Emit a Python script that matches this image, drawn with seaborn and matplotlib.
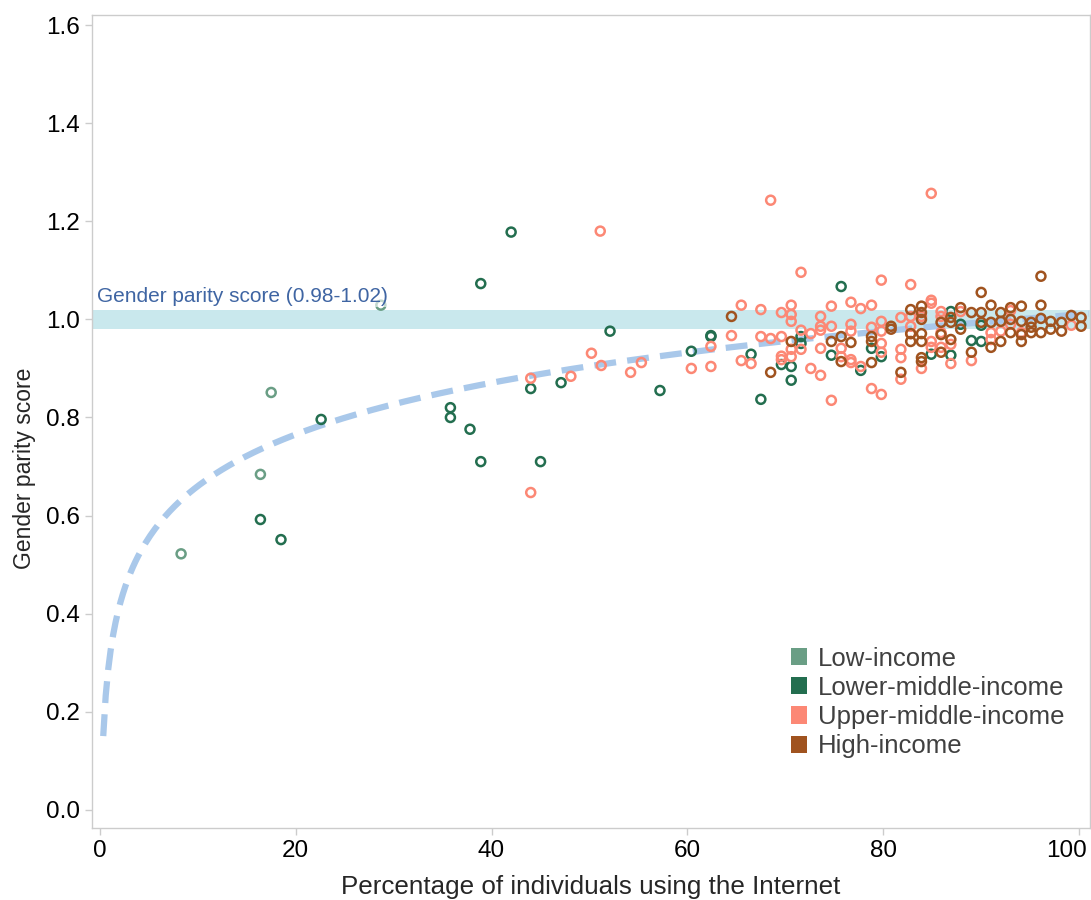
import numpy as np
import pandas as pd
import matplotlib
matplotlib.use("Agg")
import matplotlib.pyplot as plt
from matplotlib.patches import Patch
from matplotlib.transforms import ScaledTranslation
import seaborn as sns

# income groups: internet use (%) vs gender parity score
low_x = [8.3, 16.4, 17.5, 28.7]
low_y = [0.522, 0.684, 0.851, 1.029]

lower_mid_x = [16.4, 18.5, 22.6, 35.8, 35.8, 37.8, 38.9, 38.9, 42.0, 44.0, 45.0, 47.1,
               52.1, 57.2, 60.4, 62.4, 62.4, 66.5, 67.5, 69.6, 70.6, 70.6, 71.6, 71.6,
               74.7, 75.7, 77.7, 78.8, 79.8, 84.9, 86.9, 86.9, 87.9, 89.0, 90.0, 90.0]
lower_mid_y = [0.592, 0.551, 0.796, 0.820, 0.800, 0.776, 0.710, 1.073, 1.178, 0.859, 0.710, 0.871,
               0.976, 0.855, 0.935, 0.967, 0.965, 0.929, 0.837, 0.908, 0.904, 0.876, 0.965, 0.951,
               0.927, 1.067, 0.896, 0.941, 0.924, 0.929, 0.927, 1.016, 0.990, 0.957, 0.955, 0.988]

upper_mid_x = [44.0, 44.0, 48.1, 50.2, 51.1, 51.2, 54.2, 55.3, 60.4, 62.4, 62.4, 64.5,
               65.5, 65.5, 66.5, 67.5, 67.5, 68.5, 68.5, 69.6, 69.6, 69.6, 69.6, 70.6,
               70.6, 70.6, 70.6, 70.6, 71.6, 71.6, 71.6, 72.6, 72.6, 73.6, 73.6, 73.6,
               73.6, 73.6, 74.7, 74.7, 74.7, 75.7, 75.7, 76.7, 76.7, 76.7, 76.7, 76.7,
               77.7, 77.7, 78.8, 78.8, 78.8, 79.8, 79.8, 79.8, 79.8, 79.8, 79.8, 81.8,
               81.8, 81.8, 81.8, 82.8, 82.8, 82.8, 82.8, 83.9, 83.9, 84.9, 84.9, 84.9,
               84.9, 84.9, 85.9, 85.9, 85.9, 85.9, 86.9, 86.9, 87.9, 89.0, 91.0, 91.0,
               92.0, 93.0, 93.0, 94.1, 99.2]
upper_mid_y = [0.647, 0.880, 0.884, 0.931, 1.180, 0.906, 0.892, 0.912, 0.900, 0.945, 0.904, 0.967,
               1.029, 0.916, 0.910, 1.020, 0.965, 1.243, 0.961, 1.014, 0.965, 0.925, 0.918, 1.029,
               1.010, 0.996, 0.939, 0.924, 1.096, 0.978, 0.939, 0.971, 0.900, 1.006, 0.986, 0.978,
               0.941, 0.886, 1.027, 0.986, 0.835, 0.941, 0.924, 1.035, 0.990, 0.976, 0.918, 0.912,
               1.022, 0.904, 1.029, 0.984, 0.859, 1.080, 0.996, 0.976, 0.951, 0.933, 0.847, 1.004,
               0.939, 0.922, 0.878, 1.071, 1.006, 0.986, 0.971, 0.900, 1.006, 1.257, 1.039, 1.033,
               0.955, 0.943, 1.016, 1.006, 0.973, 0.943, 0.949, 0.910, 1.016, 0.916, 0.973, 0.959,
               0.976, 1.018, 0.990, 0.973, 0.988]

high_x = [64.5, 68.5, 70.6, 74.7, 75.7, 75.7, 76.7, 78.8, 78.8, 78.8, 80.8, 80.8,
          81.8, 82.8, 82.8, 82.8, 83.9, 83.9, 83.9, 83.9, 83.9, 83.9, 83.9, 85.9,
          85.9, 85.9, 86.9, 86.9, 86.9, 87.9, 87.9, 89.0, 89.0, 90.0, 90.0, 90.0,
          91.0, 91.0, 91.0, 92.0, 92.0, 92.0, 93.0, 93.0, 93.0, 94.1, 94.1, 94.1,
          94.1, 95.1, 95.1, 95.1, 96.1, 96.1, 96.1, 96.1, 97.1, 97.1, 98.2, 98.2,
          99.2, 100.2, 100.2]
high_y = [1.006, 0.892, 0.955, 0.955, 0.965, 0.914, 0.953, 0.965, 0.955, 0.912, 0.986, 0.980,
          0.892, 1.020, 0.971, 0.955, 1.027, 1.014, 1.000, 0.971, 0.955, 0.922, 0.914, 0.994,
          0.969, 0.933, 1.004, 0.994, 0.959, 1.024, 0.980, 1.014, 0.933, 1.055, 1.014, 0.994,
          1.029, 0.994, 0.943, 1.014, 0.996, 0.955, 1.024, 1.000, 0.973, 1.027, 0.996, 0.969,
          0.955, 0.994, 0.984, 0.973, 1.088, 1.029, 1.002, 0.973, 0.996, 0.980, 0.994, 0.976,
          1.008, 1.004, 0.986]

groups = ["Low-income", "Lower-middle-income", "Upper-middle-income", "High-income"]
colors = ["#6a9e85", "#236e4f", "#fc8875", "#a0531f"]
parity_band = (0.98, 1.02)
# logarithmic trend line: y = a + b*ln(x)
trend_a, trend_b = 0.31, 0.152

df = pd.concat([
    pd.DataFrame({"x": low_x, "y": low_y, "group": groups[0]}),
    pd.DataFrame({"x": lower_mid_x, "y": lower_mid_y, "group": groups[1]}),
    pd.DataFrame({"x": upper_mid_x, "y": upper_mid_y, "group": groups[2]}),
    pd.DataFrame({"x": high_x, "y": high_y, "group": groups[3]}),
], ignore_index=True)

sns.set_style("white")
plt.rcParams["font.family"] = ["Liberation Sans", "DejaVu Sans"]

fig = plt.figure(figsize=(10.91, 9.0), dpi=100)
ax = fig.add_axes([0.0843, 0.08, 0.9147, 0.903])

# parity band
ax.axhspan(*parity_band, color="#c9e8ed", lw=0, zorder=1)

xs = np.linspace(0.35, 101, 400)
ax.plot(xs, trend_a + trend_b * np.log(xs), ls=(0, (3.5, 1.8)), lw=4.5,
        color="#a9c8ea", zorder=2)

sns.scatterplot(data=df, x="x", y="y", hue="group", hue_order=groups,
                palette=colors, s=42, linewidth=0, legend=False, ax=ax, zorder=3)
pts = ax.collections[-1]
pts.set_edgecolors(pts.get_facecolors())
pts.set_facecolors("none")
pts.set_linewidths(1.8)

ax.text(-0.3, 1.047, "Gender parity score (0.98-1.02)", color="#3f65a3", fontsize=15,
        va="center", ha="left", zorder=4,
        bbox=dict(facecolor="white", edgecolor="none", alpha=0.6, pad=1))

ax.set_xlim(-0.8, 101.1)
ax.set_ylim(-0.037, 1.62)
ax.set_xticks([0, 20, 40, 60, 80, 100])
ax.set_yticks(np.arange(0, 1.61, 0.2))
ax.yaxis.set_major_formatter(matplotlib.ticker.FormatStrFormatter("%.1f"))
ax.tick_params(axis="both", labelsize=17.5, length=5, color="#cccccc", width=1,
               left=True, bottom=True, labelcolor="black")
for sp in ax.spines.values():
    sp.set_color("#cccccc")
    sp.set_linewidth(1)

# nudge the "100" label so it stays inside the figure
last = ax.get_xticklabels()[-1]
last.set_transform(last.get_transform() + ScaledTranslation(-9 / 72, 0, fig.dpi_scale_trans))

ax.set_xlabel("Percentage of individuals using the Internet", fontsize=18.7)
ax.xaxis.set_label_coords(0.5, -0.058, transform=ax.transAxes)
ax.xaxis.label.set_va("top")
ax.set_ylabel("Gender parity score", fontsize=16.5)
ax.yaxis.set_label_coords(-0.056, 0.443, transform=ax.transAxes)

handles = [Patch(facecolor=c, edgecolor="none") for c in colors]
ax.legend(handles, groups, loc="upper left", bbox_to_anchor=(0.7, 0.223),
          frameon=False, fontsize=18.5, handlelength=0.65, handleheight=0.65,
          handletextpad=0.4, labelspacing=0.2, borderpad=0, borderaxespad=0,
          labelcolor="#404040")

fig.savefig("out.png", dpi=100)
